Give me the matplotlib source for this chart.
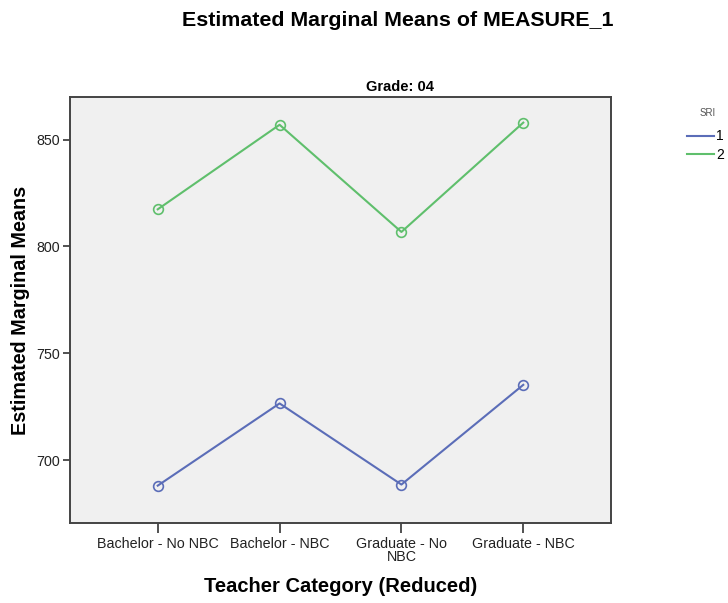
import matplotlib
matplotlib.use("Agg")
import matplotlib.pyplot as plt
from matplotlib.lines import Line2D

plt.rcParams['font.family'] = ['Liberation Sans', 'DejaVu Sans']

# data
categories = ["Bachelor - No NBC", "Bachelor - NBC", "Graduate - No\nNBC", "Graduate - NBC"]
sri_1 = [688.0, 726.5, 688.5, 735.2]
sri_2 = [817.4, 857.0, 806.8, 858.0]
series_names = ["1", "2"]
y_ticks = [700, 750, 800, 850]

blue = "#5b6db8"
green = "#5fbf6c"

fig = plt.figure(figsize=(7.28, 6.03), dpi=100)
fig.patch.set_facecolor("white")
ax = fig.add_axes([70 / 728, 1 - 523 / 603, 541 / 728, 426 / 603])
ax.set_facecolor("#f0f0f0")

x = list(range(len(categories)))
for vals, col in [(sri_1, blue), (sri_2, green)]:
    ax.plot(x, vals, color=col, lw=1.5, marker="o", ms=7, mfc="none",
            mec=col, mew=1.2)

ax.set_xlim(-0.72, 3.72)
ax.set_ylim(670.5, 870)
ax.set_xticks(x)
ax.set_xticklabels(categories, fontsize=10.3, color="#222222", linespacing=0.9)
ax.set_yticks(y_ticks)
ax.set_yticklabels([str(v) for v in y_ticks], fontsize=10.3, color="#222222")
ax.tick_params(axis="x", length=7, width=1.2, color="#333333", pad=3)
ax.tick_params(axis="y", length=5, width=1.2, color="#333333", pad=2)
for s in ax.spines.values():
    s.set_color("#444444")
    s.set_linewidth(1.4)

ax.set_ylabel("Estimated Marginal Means", fontsize=14.2, fontweight="bold", labelpad=5)
fig.text(341 / 728, 1 - 587 / 603, "Teacher Category (Reduced)", fontsize=14.5,
         fontweight="bold", ha="center", va="center")

fig.text(398 / 728, 1 - 20 / 603, "Estimated Marginal Means of MEASURE_1",
         fontsize=15.4, fontweight="bold", ha="center", va="center")
fig.text(400 / 728, 1 - 87 / 603, "Grade: 04", fontsize=10.5, fontweight="bold",
         ha="center", va="center")

# legend on the right
fig.text(708 / 728, 1 - 113 / 603, "SRI", fontsize=7, color="#555555",
         ha="center", va="center")
handles = [Line2D([0], [0], color=blue, lw=1.5), Line2D([0], [0], color=green, lw=1.5)]
fig.legend(handles, series_names, loc="upper left",
           bbox_to_anchor=(674 / 728, 1 - 117 / 603), frameon=False,
           fontsize=10, handlelength=2.0, handletextpad=0.15, labelspacing=0.35)

fig.savefig("out.png", dpi=100)
